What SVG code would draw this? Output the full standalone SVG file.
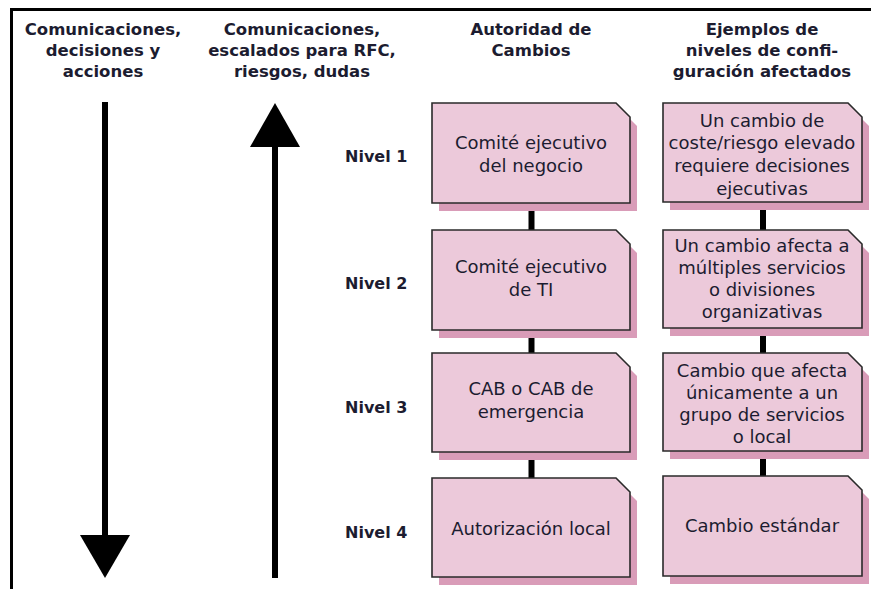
<svg xmlns="http://www.w3.org/2000/svg" width="871" height="589" viewBox="0 0 871 589">
<defs>
<style>
.hdr{font-family:"DejaVu Sans","Liberation Sans",sans-serif;font-weight:700;font-size:16.5px;fill:#1c1c30;text-anchor:middle}
.lvl{font-family:"DejaVu Sans","Liberation Sans",sans-serif;font-weight:700;font-size:16px;fill:#1c1c30;text-anchor:start}
.txt{font-family:"DejaVu Sans","Liberation Sans",sans-serif;font-weight:400;font-size:18px;fill:#1c1c30;text-anchor:middle}
.box{fill:#ecc9da;stroke:#2a2a2a;stroke-width:1.6}
.shd{fill:#d99cb8}
.con{stroke:#000;stroke-width:6;fill:none}
.arr{stroke:#000;stroke-width:6;fill:none}
</style>
</defs>
<rect x="11.5" y="9.5" width="880" height="600" fill="#fff" stroke="#000" stroke-width="3"/>
<g id="headers">
<text class="hdr" x="103" y="35">Comunicaciones,</text>
<text class="hdr" x="103" y="56">decisiones y</text>
<text class="hdr" x="103" y="77">acciones</text>
<text class="hdr" x="302" y="35">Comunicaciones,</text>
<text class="hdr" x="302" y="56">escalados para RFC,</text>
<text class="hdr" x="302" y="77">riesgos, dudas</text>
<text class="hdr" x="531" y="35">Autoridad de</text>
<text class="hdr" x="531" y="56">Cambios</text>
<text class="hdr" x="762" y="35">Ejemplos de</text>
<text class="hdr" x="762" y="56">niveles de confi-</text>
<text class="hdr" x="762" y="77">guración afectados</text>
</g>
<g id="arrows">
<line class="arr" x1="105" y1="102" x2="105" y2="537"/>
<polygon points="80,535 130,535 105,578" fill="#000"/>
<line class="arr" x1="275" y1="145" x2="275" y2="578"/>
<polygon points="250,147 300,147 275,103" fill="#000"/>
</g>
<g id="levels">
<text class="lvl" x="345" y="162">Nivel 1</text>
<text class="lvl" x="345" y="289">Nivel 2</text>
<text class="lvl" x="345" y="413">Nivel 3</text>
<text class="lvl" x="345" y="538">Nivel 4</text>
</g>
<g id="connectors">
<line class="con" x1="531.5" y1="203" x2="531.5" y2="230"/>
<line class="con" x1="531.5" y1="330" x2="531.5" y2="353"/>
<line class="con" x1="531.5" y1="452" x2="531.5" y2="478"/>
<line class="con" x1="763" y1="202" x2="763" y2="230"/>
<line class="con" x1="763" y1="328" x2="763" y2="353"/>
<line class="con" x1="763" y1="451" x2="763" y2="476"/>
</g>
<g id="auth1">
<path class="shd" d="M439,111 H622 L637,126 V211 H439 Z"/>
<path class="box" d="M432,103 H616 L630,117 V203 H432 Z"/>
<text class="txt" x="531" y="149">Comité ejecutivo</text>
<text class="txt" x="531" y="172">del negocio</text>
</g>
<g id="auth2">
<path class="shd" d="M439,238 H622 L637,253 V338 H439 Z"/>
<path class="box" d="M432,230 H616 L630,244 V330 H432 Z"/>
<text class="txt" x="531" y="273">Comité ejecutivo</text>
<text class="txt" x="531" y="296">de TI</text>
</g>
<g id="auth3">
<path class="shd" d="M439,361 H622 L637,376 V460 H439 Z"/>
<path class="box" d="M432,353 H616 L630,367 V452 H432 Z"/>
<text class="txt" x="531" y="395">CAB o CAB de</text>
<text class="txt" x="531" y="418">emergencia</text>
</g>
<g id="auth4">
<path class="shd" d="M439,486 H622 L637,501 V585 H439 Z"/>
<path class="box" d="M432,478 H616 L630,492 V577 H432 Z"/>
<text class="txt" x="531" y="535">Autorización local</text>
</g>
<g id="ex1">
<path class="shd" d="M670,111 H854 L869,126 V210 H670 Z"/>
<path class="box" d="M663,103 H848 L862,117 V202 H663 Z"/>
<text class="txt" x="762" y="127">Un cambio de</text>
<text class="txt" x="762" y="149">coste/riesgo elevado</text>
<text class="txt" x="762" y="172">requiere decisiones</text>
<text class="txt" x="762" y="195">ejecutivas</text>
</g>
<g id="ex2">
<path class="shd" d="M670,238 H854 L869,253 V336 H670 Z"/>
<path class="box" d="M663,230 H848 L862,244 V328 H663 Z"/>
<text class="txt" x="762" y="252">Un cambio afecta a</text>
<text class="txt" x="762" y="274">múltiples servicios</text>
<text class="txt" x="762" y="296">o divisiones</text>
<text class="txt" x="762" y="318">organizativas</text>
</g>
<g id="ex3">
<path class="shd" d="M670,361 H854 L869,376 V459 H670 Z"/>
<path class="box" d="M663,353 H848 L862,367 V451 H663 Z"/>
<text class="txt" x="762" y="377">Cambio que afecta</text>
<text class="txt" x="762" y="399">únicamente a un</text>
<text class="txt" x="762" y="421">grupo de servicios</text>
<text class="txt" x="762" y="443">o local</text>
</g>
<g id="ex4">
<path class="shd" d="M670,484 H854 L869,499 V584 H670 Z"/>
<path class="box" d="M663,476 H848 L862,490 V576 H663 Z"/>
<text class="txt" x="762" y="532">Cambio estándar</text>
</g>
</svg>
